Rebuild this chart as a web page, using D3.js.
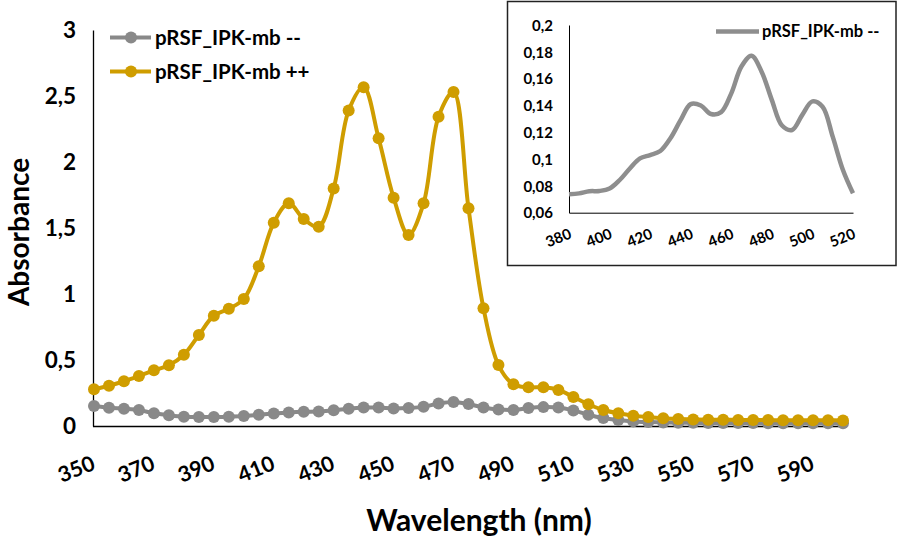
<!DOCTYPE html>
<html>
<head>
<meta charset="utf-8">
<script src="https://cdn.jsdelivr.net/npm/d3@7"></script>
<style>
  html, body { margin: 0; padding: 0; background: #fff; }
  svg { display: block; }
  text { font-family: Lato, "Open Sans", sans-serif; font-weight: bold; fill: #000; }
</style>
</head>
<body>
<svg id="chart" width="898" height="539"></svg>
<script>
// ---- data ----
const wavelengths = d3.range(350, 601, 5);
const seriesMinus = [0.152, 0.139, 0.131, 0.121, 0.096, 0.081, 0.070, 0.068, 0.068, 0.070,
  0.075, 0.085, 0.095, 0.103, 0.108, 0.110, 0.120, 0.130, 0.140, 0.140,
  0.133, 0.136, 0.145, 0.170, 0.182, 0.166, 0.140, 0.125, 0.122, 0.136,
  0.143, 0.140, 0.118, 0.085, 0.060, 0.045, 0.035, 0.030, 0.027, 0.025,
  0.024, 0.023, 0.023, 0.022, 0.022, 0.021, 0.021, 0.020, 0.020, 0.020, 0.020];
const seriesPlus = [0.278, 0.305, 0.339, 0.379, 0.422, 0.460, 0.540, 0.690, 0.836, 0.889,
  0.962, 1.210, 1.540, 1.687, 1.568, 1.510, 1.800, 2.390, 2.566, 2.180,
  1.730, 1.447, 1.687, 2.343, 2.530, 1.649, 0.892, 0.462, 0.316, 0.293,
  0.293, 0.273, 0.220, 0.165, 0.121, 0.096, 0.078, 0.068, 0.058, 0.053,
  0.050, 0.048, 0.047, 0.046, 0.045, 0.045, 0.044, 0.044, 0.043, 0.043, 0.042];
const seriesNames = ["pRSF_IPK-mb --", "pRSF_IPK-mb ++"];
const seriesColors = ["#898989", "#CF9D00"];
const yTicks = [0, 0.5, 1, 1.5, 2, 2.5, 3];
const xTickLabels = d3.range(350, 591, 20);

const insetWavelengths = d3.range(380, 521, 5);
const insetValues = [0.0737, 0.0744, 0.0760, 0.0762, 0.0780, 0.0844, 0.0930, 0.1005, 0.1030, 0.1060,
  0.1155, 0.1290, 0.1410, 0.1400, 0.1336, 0.1350, 0.1490, 0.1690, 0.1770, 0.1650,
  0.1440, 0.1250, 0.1217, 0.1330, 0.1430, 0.1390, 0.1167, 0.0920, 0.0745];
const insetYTicks = [0.06, 0.08, 0.1, 0.12, 0.14, 0.16, 0.18, 0.2];
const insetXTicks = [380, 400, 420, 440, 460, 480, 500, 520];

const fmt = v => String(+v.toFixed(2)).replace(".", ",");

// ---- main chart ----
const svg = d3.select("#chart");
const x = d3.scalePoint().domain(wavelengths).range([94, 843]);
const y = d3.scaleLinear().domain([0, 3]).range([426, 30]);

const yAxis = d3.axisLeft(y).tickValues(yTicks).tickSize(0).tickPadding(17).tickFormat(fmt);
const gy = svg.append("g").attr("transform", "translate(93,0)").call(yAxis);
gy.select(".domain").attr("stroke", "#000").attr("stroke-width", 1.3);
gy.selectAll("text").style("font-size", "22.5px").style("font-family", "Lato").attr("dy", "0.35em");

const xAxis = d3.axisBottom(x).tickValues(xTickLabels).tickSize(0).tickFormat(d => d);
const gx = svg.append("g").attr("transform", "translate(0,426)").call(xAxis);
gx.select(".domain").attr("stroke", "#000").attr("stroke-width", 1.3).attr("d", "M93,0.5H843");
gx.selectAll("text")
  .style("font-size", "21.5px").style("font-family", "Lato")
  .attr("text-anchor", "end").attr("dy", null).attr("y", null)
  .attr("transform", "translate(2,43) rotate(-22)");

const line = d3.line().x((d, i) => x(wavelengths[i])).y(d => y(d)).curve(d3.curveCatmullRom.alpha(0.5));
const series = [seriesMinus, seriesPlus];
series.forEach((vals, si) => {
  const g = svg.append("g");
  g.append("path").datum(vals).attr("d", line).attr("fill", "none")
    .attr("stroke", seriesColors[si]).attr("stroke-width", 4);
  g.selectAll("circle").data(vals).join("circle")
    .attr("cx", (d, i) => x(wavelengths[i])).attr("cy", d => y(d)).attr("r", 6)
    .attr("fill", seriesColors[si]);
});

// legend
seriesNames.forEach((name, i) => {
  const ly = [37.5, 71.5][i];
  const g = svg.append("g");
  g.append("line").attr("x1", 110).attr("x2", 151).attr("y1", ly).attr("y2", ly)
    .attr("stroke", seriesColors[i]).attr("stroke-width", 4);
  g.append("circle").attr("cx", 131).attr("cy", ly).attr("r", 6).attr("fill", seriesColors[i]);
  g.append("text").attr("x", 155).attr("y", ly + 7).style("font-size", "20.5px").text(name);
});

// axis titles
svg.append("text").attr("x", 479).attr("y", 531).attr("text-anchor", "middle")
  .style("font-size", "30px").text("Wavelength (nm)");
svg.append("text").attr("transform", "translate(29,232) rotate(-90)").attr("text-anchor", "middle")
  .style("font-size", "28px").text("Absorbance");

// ---- inset ----
const inset = svg.append("g");
inset.append("rect").attr("x", 507.5).attr("y", 1.5).attr("width", 388.5).attr("height", 264)
  .attr("fill", "#fff").attr("stroke", "#222").attr("stroke-width", 1.5);
const ix = d3.scaleLinear().domain([380, 520]).range([569, 853]);
const iy = d3.scaleLinear().domain([0.06, 0.2]).range([212.7, 25]);

const iyAxis = d3.axisLeft(iy).tickValues(insetYTicks).tickSize(0).tickPadding(16).tickFormat(fmt);
const igy = inset.append("g").attr("transform", "translate(569,0)").call(iyAxis);
igy.select(".domain").attr("stroke", "#000").attr("stroke-width", 1);
igy.selectAll("text").style("font-size", "15px").style("font-family", "Lato").attr("dy", "0.35em");

const ixAxis = d3.axisBottom(ix).tickValues(insetXTicks).tickSize(0).tickFormat(d => d);
const igx = inset.append("g").attr("transform", "translate(0,212.7)").call(ixAxis);
igx.select(".domain").attr("stroke", "#000").attr("stroke-width", 1);
igx.selectAll("text")
  .style("font-size", "15px").style("font-family", "Lato")
  .attr("text-anchor", "end").attr("dy", null).attr("y", null)
  .attr("transform", "translate(3,25) rotate(-22)");

const iline = d3.line().x((d, i) => ix(insetWavelengths[i])).y(d => iy(d)).curve(d3.curveCatmullRom.alpha(0.5));
inset.append("path").datum(insetValues).attr("d", iline).attr("fill", "none")
  .attr("stroke", "#8E8E8E").attr("stroke-width", 4.5);

inset.append("line").attr("x1", 716).attr("x2", 759).attr("y1", 31.5).attr("y2", 31.5)
  .attr("stroke", "#8E8E8E").attr("stroke-width", 4.5);
inset.append("text").attr("x", 762).attr("y", 37).style("font-size", "16.5px").text(seriesNames[0]);
</script>
</body>
</html>
